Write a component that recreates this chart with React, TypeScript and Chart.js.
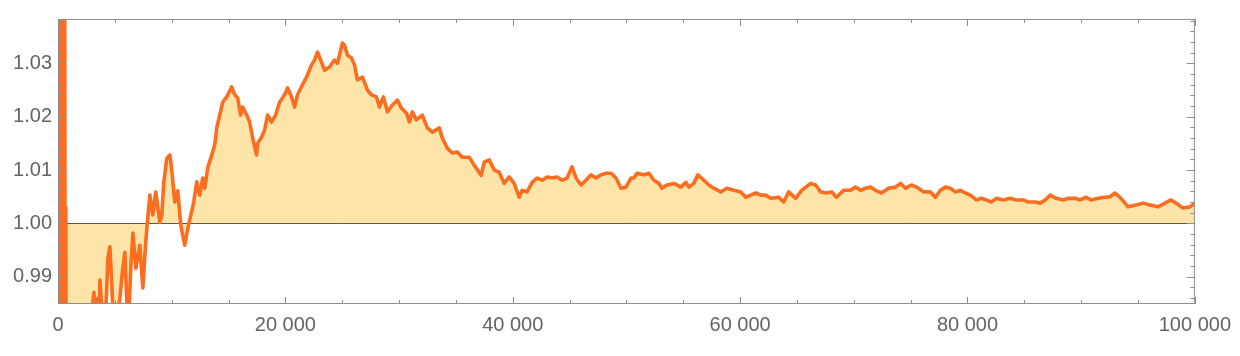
import React, { useEffect, useRef } from 'react';
import { Chart, registerables } from 'chart.js';

Chart.register(...registerables);

// ---- data ----
const xValues: number[] = [
  0, 40, 90, 140, 190, 240, 290, 340, 390, 440, 490, 540, 590, 640, 680, 720,
  1000, 1500, 2000, 2500, 2810, 3161, 3336, 3512, 3600, 3688, 3951, 4214, 4390, 4566,
  4741, 4917, 5180, 5444, 5619, 5883, 6058, 6234, 6409, 6585, 6848, 7199, 7463, 7639,
  7814, 8078, 8341, 8604, 8780, 8956, 9131, 9307, 9570, 9834, 10009, 10273, 10536, 10799,
  11151, 11414, 11677, 11941, 12204, 12468, 12731, 12907, 13170, 13521, 13785, 13960, 14224, 14487,
  14838, 15277, 15541, 15804, 16067, 16243, 16594, 16858, 17121, 17472, 17560, 17911, 18175, 18438,
  18789, 19140, 19492, 19931, 20194, 20545, 20809, 21072, 21511, 21862, 22301, 22565, 22828, 23179,
  23443, 23882, 24321, 24584, 24935, 25023, 25199, 25462, 25813, 26077, 26340, 26779, 27218, 27569,
  28008, 28272, 28623, 28974, 29413, 29852, 30203, 30642, 30906, 31169, 31520, 32047, 32486, 32925,
  33540, 33803, 34242, 34681, 35120, 35559, 36174, 36613, 37227, 37491, 37930, 38369, 38808, 39247,
  39686, 40125, 40564, 40827, 41266, 41705, 42144, 42583, 43022, 43461, 43900, 44339, 44778, 45217,
  45568, 46007, 46446, 46885, 47324, 47763, 48202, 48641, 49080, 49519, 49958, 50397, 50661, 50924,
  51539, 51978, 52417, 52856, 53119, 53558, 54173, 54787, 55226, 55490, 55929, 56280, 56807, 57246,
  57685, 58299, 58826, 59441, 60055, 60494, 60933, 61372, 61811, 62250, 62689, 63392, 63831, 64270,
  64884, 65411, 66201, 66640, 67079, 67606, 68045, 68484, 69099, 69713, 70152, 70591, 71030, 71469,
  71908, 72435, 73050, 73664, 74103, 74542, 75069, 75684, 76123, 76737, 77176, 77615, 78054, 78493,
  78932, 79371, 79810, 80249, 80776, 81215, 81654, 82093, 82532, 83147, 83761, 84288, 84903, 85342,
  85956, 86395, 86834, 87273, 87800, 88415, 88854, 89468, 89907, 90434, 90873, 91488, 92102, 92541,
  92980, 93507, 94122, 94736, 95439, 96141, 96756, 97370, 97897, 98336, 98951, 99565, 100000,
];

const yValues: number[] = [
  1.06, 0.94, 1.05, 0.95, 1.05, 0.95, 1.045, 0.955, 1.045, 0.96, 1.04, 0.96, 1.04, 0.965, 1.003, 0.97,
  0.975, 0.97, 0.975, 0.978, 0.98, 0.9871, 0.982, 0.986, 0.98, 0.9894, 0.981, 0.984, 0.9935, 0.9956,
  0.988, 0.98, 0.982, 0.986, 0.99, 0.9946, 0.985, 0.983, 0.992, 0.9982, 0.9916, 0.9959, 0.9879, 0.994,
  0.9991, 1.0053, 1.0016, 1.0059, 1.003, 1.0002, 1.0015, 1.0077, 1.0122, 1.0128, 1.0099, 1.004, 1.0061, 0.9997,
  0.9959, 0.999, 1.0015, 1.004, 1.0078, 1.0053, 1.0085, 1.0066, 1.0104, 1.0128, 1.0147, 1.0179, 1.0203, 1.0227,
  1.0237, 1.0256, 1.0241, 1.0235, 1.0203, 1.0218, 1.0203, 1.019, 1.016, 1.0128, 1.015, 1.0162, 1.0175, 1.0203,
  1.019, 1.0203, 1.0227, 1.0241, 1.0254, 1.0237, 1.0218, 1.0241, 1.026, 1.0274, 1.0297, 1.0306, 1.0321, 1.0302,
  1.0287, 1.0293, 1.0306, 1.03, 1.0331, 1.0338, 1.0334, 1.0315, 1.031, 1.0297, 1.0269, 1.0274, 1.025, 1.0241,
  1.0237, 1.0218, 1.0237, 1.0209, 1.0222, 1.0231, 1.0216, 1.0207, 1.019, 1.0209, 1.0194, 1.0203, 1.0179, 1.0171,
  1.0179, 1.016, 1.0141, 1.0132, 1.0134, 1.0124, 1.0124, 1.0109, 1.009, 1.0115, 1.0119, 1.01, 1.0096, 1.0075,
  1.0087, 1.0075, 1.0049, 1.0062, 1.0059, 1.0077, 1.0085, 1.0081, 1.0087, 1.0085, 1.0087, 1.0081, 1.0085, 1.0106,
  1.0085, 1.0072, 1.0081, 1.0091, 1.0085, 1.0091, 1.0094, 1.0094, 1.0085, 1.0066, 1.0068, 1.0085, 1.0085, 1.0094,
  1.0091, 1.0094, 1.0081, 1.0075, 1.0066, 1.0072, 1.0075, 1.0068, 1.0077, 1.0068, 1.0075, 1.0091, 1.0081, 1.0072,
  1.0066, 1.0059, 1.0066, 1.0062, 1.0059, 1.0049, 1.0053, 1.0057, 1.0053, 1.0053, 1.0047, 1.0049, 1.004, 1.0059,
  1.0047, 1.0062, 1.0075, 1.0072, 1.0059, 1.0057, 1.0059, 1.0049, 1.0062, 1.0062, 1.0068, 1.0062, 1.0066, 1.0068,
  1.0062, 1.0057, 1.0066, 1.0068, 1.0075, 1.0066, 1.0072, 1.0066, 1.0059, 1.0059, 1.0049, 1.0062, 1.0068, 1.0066,
  1.0059, 1.0062, 1.0057, 1.0053, 1.0044, 1.0047, 1.0044, 1.004, 1.0047, 1.0044, 1.0047, 1.0044, 1.0044, 1.004,
  1.004, 1.0038, 1.0044, 1.0053, 1.0047, 1.0044, 1.0047, 1.0047, 1.0044, 1.0049, 1.0044, 1.0047, 1.0049, 1.005,
  1.0057, 1.0047, 1.0031, 1.0034, 1.0038, 1.0034, 1.0031, 1.0038, 1.0044, 1.0038, 1.0029, 1.0031, 1.0038,
];

const xTickValues: number[] = [0, 20000, 40000, 60000, 80000, 100000];
const yTickValues: number[] = [0.99, 1.0, 1.01, 1.02, 1.03];

const X_MIN = 0;
const X_MAX = 100000;
const Y_MIN = 0.9849;
const Y_MAX = 1.0383;
const BASELINE = 1.0;
const X_MINOR_STEP = 5000;
const Y_MINOR_STEP = 0.002;

const LINE_COLOR = '#fd6d1f';
const FILL_COLOR = '#fde5aa';
const FRAME_COLOR = '#8f8f8f';
const LABEL_COLOR = '#646464';
const BASE_COLOR = '#5c5a4c';
const FONT_FAMILY = '"Liberation Sans", Arial, sans-serif';

function fmtX(v: number): string {
  const s = String(Math.round(v));
  return s.replace(/\B(?=(\d{3})+(?!\d))/g, ' ');
}

const framePlugin = {
  id: 'mmaFrame',
  afterDatasetDraw(chart: any, args: any) {
    if (args.index !== 0) return;
    const { ctx, chartArea } = chart;
    const y = Math.round(chart.scales.y.getPixelForValue(BASELINE)) + 0.5;
    ctx.save();
    ctx.strokeStyle = BASE_COLOR;
    ctx.lineWidth = 1;
    ctx.beginPath();
    ctx.moveTo(chartArea.left, y);
    ctx.lineTo(chartArea.right, y);
    ctx.stroke();
    ctx.restore();
  },
  afterDraw(chart: any) {
    const { ctx, chartArea } = chart;
    const { left, right, top, bottom } = chartArea;
    const xs = chart.scales.x;
    const ys = chart.scales.y;
    ctx.save();
    ctx.strokeStyle = FRAME_COLOR;
    ctx.lineWidth = 1;
    ctx.strokeRect(left + 0.5, top + 0.5, right - left - 1, bottom - top - 1);
    ctx.beginPath();
    const xMajor = new Set(xTickValues.map((v) => Math.round(v)));
    for (let v = X_MIN; v <= X_MAX + 1e-6; v += X_MINOR_STEP) {
      const px = Math.round(xs.getPixelForValue(v)) + 0.5;
      const len = xMajor.has(Math.round(v)) ? 7 : 4;
      ctx.moveTo(px, bottom);
      ctx.lineTo(px, bottom - len);
      ctx.moveTo(px, top);
      ctx.lineTo(px, top + len);
    }
    const kMin = Math.ceil(Y_MIN / Y_MINOR_STEP - 1e-9);
    const kMax = Math.floor(Y_MAX / Y_MINOR_STEP + 1e-9);
    for (let k = kMin; k <= kMax; k++) {
      const v = k * Y_MINOR_STEP;
      const py = Math.round(ys.getPixelForValue(v)) + 0.5;
      const len = k % 5 === 0 ? 8 : 4.5;
      ctx.moveTo(left, py);
      ctx.lineTo(left + len, py);
      ctx.moveTo(right, py);
      ctx.lineTo(right - len, py);
    }
    ctx.stroke();
    ctx.restore();
  },
};

export default function App() {
  const canvasRef = useRef<HTMLCanvasElement | null>(null);

  useEffect(() => {
    if (!canvasRef.current) return;
    const points = xValues.map((x, i) => ({ x, y: yValues[i] }));
    const chart = new Chart(canvasRef.current, {
      type: 'line',
      data: {
        datasets: [
          {
            data: points,
            fill: { value: BASELINE },
            backgroundColor: FILL_COLOR,
            borderColor: 'rgba(0,0,0,0)',
            borderWidth: 0.01,
            pointRadius: 0,
            tension: 0,
            order: 2,
            clip: 0,
          } as any,
          {
            data: points,
            fill: false,
            borderColor: LINE_COLOR,
            borderWidth: 3.6,
            borderJoinStyle: 'round',
            borderCapStyle: 'round',
            pointRadius: 0,
            tension: 0,
            order: 1,
            clip: 0,
          } as any,
        ],
      },
      options: {
        animation: false,
        responsive: true,
        maintainAspectRatio: false,
        devicePixelRatio: 1,
        layout: { padding: { left: 0, right: 43, top: 19, bottom: 0 } },
        plugins: { legend: { display: false }, tooltip: { enabled: false } },
        scales: {
          x: {
            type: 'linear',
            min: X_MIN,
            max: X_MAX,
            grid: { display: false, drawTicks: false },
            border: { display: false },
            afterBuildTicks: (s: any) => {
              s.ticks = xTickValues.map((v) => ({ value: v }));
            },
            afterFit: (s: any) => {
              s.height = 52;
            },
            ticks: {
              autoSkip: false,
              maxRotation: 0,
              padding: 9,
              color: LABEL_COLOR,
              font: { family: FONT_FAMILY, size: 20 },
              callback: (v: any) => fmtX(Number(v)),
            },
          },
          y: {
            type: 'linear',
            min: Y_MIN,
            max: Y_MAX,
            grid: { display: false, drawTicks: false },
            border: { display: false },
            afterBuildTicks: (s: any) => {
              s.ticks = yTickValues.map((v) => ({ value: v }));
            },
            afterFit: (s: any) => {
              s.width = 58;
            },
            ticks: {
              padding: 6,
              color: LABEL_COLOR,
              font: { family: FONT_FAMILY, size: 20 },
              callback: (v: any) => Number(v).toFixed(2),
            },
          },
        },
      },
      plugins: [framePlugin],
    });
    return () => chart.destroy();
  }, []);

  return (
    <div style={{ position: 'fixed', left: 0, top: 0, width: 1240, height: 356, background: '#fff' }}>
      <canvas ref={canvasRef} style={{ width: '100%', height: '100%' }} />
    </div>
  );
}
